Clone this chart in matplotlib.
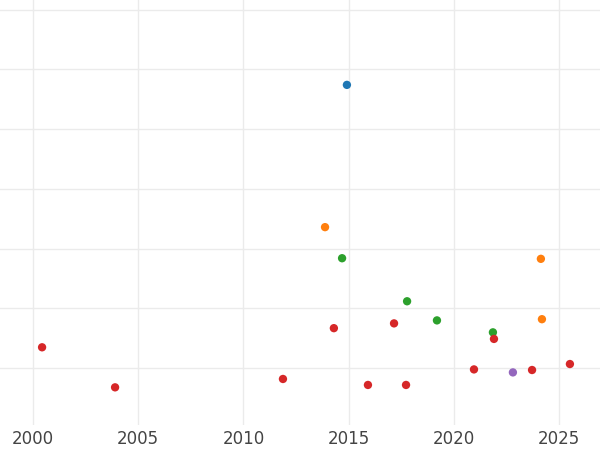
import matplotlib
matplotlib.use("Agg")
import matplotlib.pyplot as plt

years = [2014.92, 2013.88, 2014.69, 2024.14, 2017.78, 2024.19, 2019.2, 2014.3, 2017.16, 2021.86,
         2021.91, 2000.43, 2003.9, 2011.88, 2015.92, 2017.73, 2020.96, 2022.81, 2023.72, 2025.52]
values = [4.74, 2.36, 1.84, 1.83, 1.12, 0.82, 0.80, 0.67, 0.75, 0.60,
          0.49, 0.35, -0.32, -0.18, -0.28, -0.28, -0.02, -0.07, -0.03, 0.07]
groups = ["blue", "orange", "green", "orange", "green", "orange", "green", "red", "red", "green",
          "red", "red", "red", "red", "red", "red", "red", "purple", "red", "red"]
palette = {"blue": "#1f77b4", "orange": "#ff7f0e", "green": "#2ca02c", "red": "#d62728", "purple": "#9467bd"}
xticks = [2000, 2005, 2010, 2015, 2020, 2025]

fig = plt.figure(figsize=(6, 4.5), dpi=100)
ax = fig.add_axes([0, 25/450, 1, 425/450])
ax.scatter(years, values, c=[palette[g] for g in groups], s=36, zorder=3, linewidths=0)
ax.set_xlim(1998.43, 2026.95)
ax.set_ylim(-0.95, 6.16)
ax.set_xticks(xticks)
ax.set_xticklabels([str(x) for x in xticks], fontsize=12, color="#444444")
ax.set_yticks([0, 1, 2, 3, 4, 5, 6])
ax.set_yticklabels([])
ax.tick_params(length=0)
ax.grid(True, color="#ebebeb", linewidth=1.0, zorder=0)
for s in ax.spines.values():
    s.set_visible(False)
fig.savefig("out.png", dpi=100)
